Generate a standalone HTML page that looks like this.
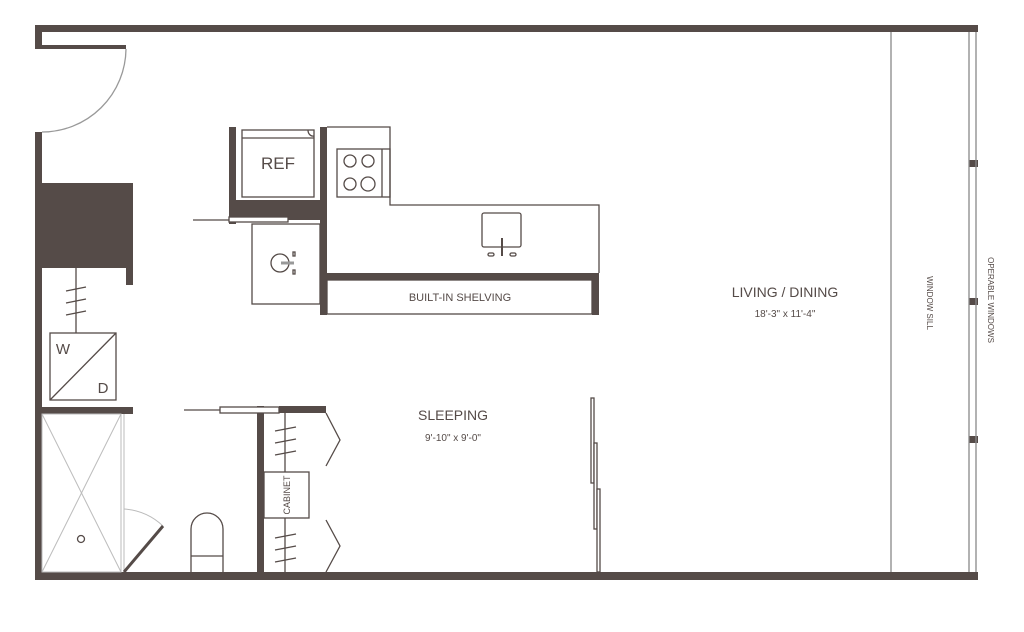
<!DOCTYPE html>
<html><head><style>html,body{margin:0;padding:0;background:#fff}svg{display:block}</style></head><body>
<svg width="1024" height="632" viewBox="0 0 1024 632" xmlns="http://www.w3.org/2000/svg" font-family="Liberation Sans, sans-serif">
<g fill="#554b48">
<rect x="35" y="25" width="943" height="7"/>
<rect x="35" y="25" width="7" height="24"/>
<rect x="35" y="45" width="91" height="4"/>
<rect x="35" y="132" width="7" height="448"/>
<rect x="35" y="572" width="943" height="8"/>
<rect x="42" y="183" width="91" height="85"/>
<rect x="126" y="183" width="7" height="102"/>
<rect x="229" y="127" width="7" height="97"/>
<rect x="229" y="200" width="98" height="20"/>
<rect x="320" y="127" width="7" height="188"/>
<rect x="320" y="273" width="279" height="7"/>
<rect x="592" y="273" width="7" height="42"/>
<rect x="42" y="407" width="91" height="7"/>
<rect x="279" y="406" width="47" height="7"/>
<rect x="257" y="406" width="7" height="168"/>
<rect x="969" y="160" width="9" height="7"/>
<rect x="969" y="298" width="9" height="7"/>
<rect x="969" y="436" width="9" height="7"/>
</g>
<g fill="none" stroke="#554b48" stroke-width="1.3">
<path d="M126 49 A84 84 0 0 1 42 132" stroke="#999"/>
<line x1="891" y1="32" x2="891" y2="572" stroke="#888"/>
<line x1="969" y1="32" x2="969" y2="572" stroke="#888"/>
<line x1="976" y1="32" x2="976" y2="572" stroke="#888"/>
<line x1="76" y1="268" x2="76" y2="333"/>
<path d="M66 291 L86 287 M66 303 L86 299 M66 315 L86 311"/>
<rect x="50" y="333" width="66" height="67"/>
<line x1="50" y1="400" x2="116" y2="333"/>
<rect x="242" y="130" width="72" height="67"/>
<line x1="242" y1="138" x2="314" y2="138"/>
<path d="M308 130 A5 6 0 0 0 314 136"/>
<line x1="193" y1="220" x2="268" y2="220"/>
<rect x="229" y="217" width="59" height="5" fill="#fff"/>
<rect x="252" y="224" width="68" height="80"/>
<circle cx="280" cy="263" r="9"/>
<line x1="281" y1="263" x2="294" y2="263" stroke-width="3" stroke="#999"/>
<rect x="293" y="252" width="2" height="4"/><rect x="293" y="270" width="2" height="4"/>
<path d="M327 127 H390 V205 H599 V273"/>
<rect x="337" y="149" width="53" height="48"/>
<line x1="382" y1="149" x2="382" y2="197"/>
<circle cx="350" cy="161" r="6"/><circle cx="368" cy="161" r="6"/>
<circle cx="350" cy="184" r="6"/><circle cx="368" cy="184" r="7"/>
<rect x="482" y="213" width="39" height="34" rx="2"/>
<line x1="502" y1="238" x2="502" y2="256" stroke-width="2"/>
<rect x="488" y="253" width="6" height="3" rx="1.5"/><rect x="510" y="253" width="6" height="3" rx="1.5"/>
<rect x="327" y="280" width="265" height="34"/>
<g stroke="#bbb" stroke-width="1">
<rect x="42" y="414" width="79" height="158"/>
<line x1="42" y1="414" x2="121" y2="572"/><line x1="121" y1="414" x2="42" y2="572"/>
<line x1="124" y1="414" x2="124" y2="572"/>
<path d="M124 509 A63 63 0 0 1 163 526"/>
</g>
<circle cx="81" cy="539" r="3.5"/>
<line x1="124" y1="572" x2="163" y2="526" stroke-width="3"/>
<path d="M191 572 V529 A16 16 0 0 1 223 529 V572 M191 556 H223"/>
<line x1="184" y1="410" x2="220" y2="410"/>
<rect x="220" y="407" width="59" height="6" fill="#fff"/>
<line x1="285" y1="413" x2="285" y2="572"/>
<path d="M275 431 L296 427 M275 443 L296 439 M275 455 L296 451 M275 538 L296 534 M275 550 L296 546 M275 562 L296 558"/>
<rect x="264" y="472" width="45" height="46" fill="#fff"/>
<path d="M326 413 L340 440 L326 466 M326 520 L340 546 L326 572"/>
<rect x="591" y="398" width="3" height="85" fill="#fff"/>
<rect x="594" y="443" width="3" height="86" fill="#fff"/>
<rect x="597" y="489" width="3" height="83" fill="#fff"/>
</g>
<g fill="#554b48" text-anchor="middle">
<text x="278" y="169" font-size="17">REF</text>
<text x="63" y="354" font-size="15">W</text>
<text x="103" y="393" font-size="15">D</text>
<text x="460" y="301" font-size="11">BUILT-IN SHELVING</text>
<text x="785" y="297" font-size="14">LIVING / DINING</text>
<text x="785" y="317" font-size="10">18'-3" x 11'-4"</text>
<text x="453" y="420" font-size="14">SLEEPING</text>
<text x="453" y="441" font-size="10">9'-10" x 9'-0"</text>
<text transform="translate(290,495) rotate(-90)" font-size="9">CABINET</text>
<text transform="translate(927,303) rotate(90)" font-size="8">WINDOW SILL</text>
<text transform="translate(988,300) rotate(90)" font-size="8">OPERABLE WINDOWS</text>
</g>
</svg>
</body></html>
